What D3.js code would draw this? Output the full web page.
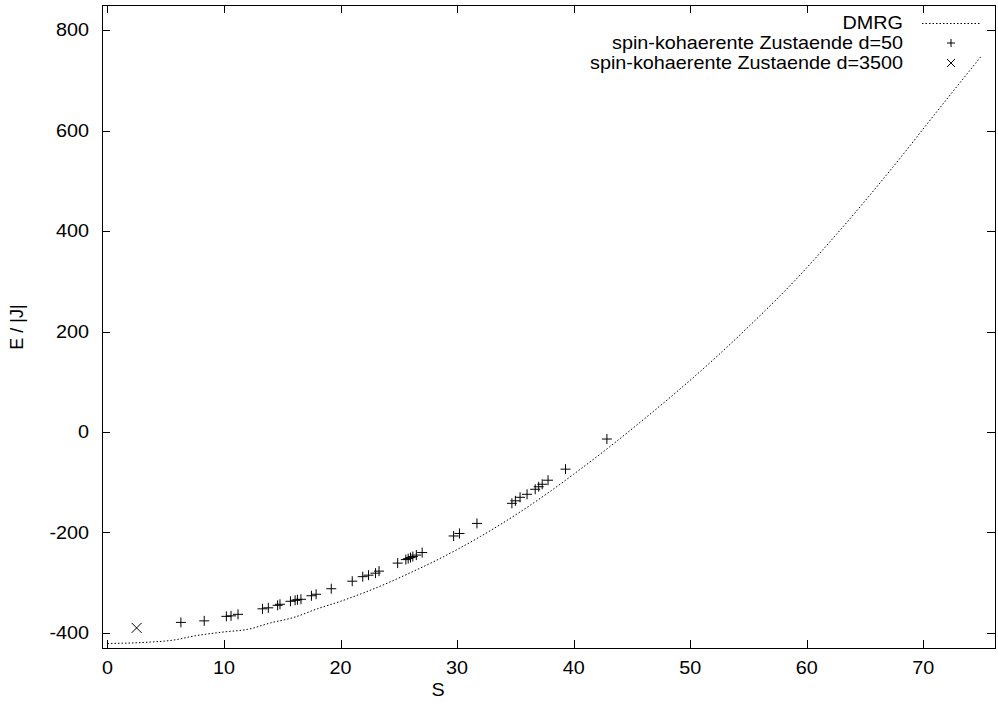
<!DOCTYPE html>
<html>
<head>
<meta charset="utf-8">
<script src="https://cdn.jsdelivr.net/npm/d3@7"></script>
<style>
  body { margin: 0; background: #fff; }
  text { font-family: "Liberation Sans", Arial, sans-serif; font-size: 18px; fill: #000; }
</style>
</head>
<body>
<svg class="chart"></svg>
<script>
// DMRG curve
const dmrgS = [0, 3, 6, 7, 10, 12, 14, 16, 18, 20, 22, 24, 26, 28, 30, 32, 34, 36, 38, 40, 43, 46, 49, 52.6, 56, 59, 62, 65, 68, 71, 75];
const dmrgE = [-421, -419, -413, -408, -398, -393, -380, -369, -352, -337, -320, -301, -280, -258, -234, -208, -180, -150, -118, -84, -31, 25, 83, 157, 232, 302, 379, 460, 545, 633, 749];

// spin-kohaerente Zustaende d=50
const d50S = [6.3, 8.3, 10.2, 10.6, 11.2, 13.3, 13.8, 14.6, 14.8, 15.7, 16.1, 16.3, 16.6, 17.5, 17.9, 19.2, 21.0, 21.9, 22.4, 23.0, 23.3, 24.9, 25.6, 25.8, 26.0, 26.2, 26.5, 27.0, 29.7, 30.2, 31.7, 34.7, 35.0, 35.4, 36.0, 36.7, 37.0, 37.3, 37.8, 39.3, 42.85];
const d50E = [-379, -376, -367, -366, -363, -352, -350, -345, -343, -337, -335, -334, -333, -326, -323, -312, -297, -288, -285, -281, -277, -261, -254, -252, -250, -248, -245, -240, -207, -202, -182, -142, -137, -130, -124, -114, -109, -104, -96, -74, -14];

// spin-kohaerente Zustaende d=3500
const d3500S = [2.5];
const d3500E = [-390];

const xTicks = [0, 10, 20, 30, 40, 50, 60, 70];
const yTicks = [-400, -200, 0, 200, 400, 600, 800];
const legendLabels = ['DMRG', 'spin-kohaerente Zustaende d=50', 'spin-kohaerente Zustaende d=3500'];

const W = 998, H = 711;
const frame = {left: 102, right: 995, top: 5, bottom: 648};
const tickLen = 8;

const svg = d3.select('.chart').attr('width', W).attr('height', H);

const x = d3.scaleLinear().domain([-0.47, 76.15]).range([frame.left, frame.right]);
const y = d3.scaleLinear().domain([-430, 850]).range([frame.bottom, frame.top]);

// stretched text like the original bitmap
function label(g, tx, ty, str, anchor) {
  g.append('g').attr('transform', `translate(${tx},${ty})`)
    .append('text')
    .attr('transform', 'scale(1.1,1)')
    .attr('text-anchor', anchor)
    .attr('dominant-baseline', 'central')
    .text(str);
}

// ticks (mirrored on all four sides)
const ticks = svg.append('g').attr('stroke', '#000').attr('stroke-width', 1);
xTicks.forEach(t => {
  const px = Math.round(x(t)) + 0.5;
  ticks.append('line').attr('x1', px).attr('x2', px).attr('y1', frame.bottom).attr('y2', frame.bottom - tickLen);
  ticks.append('line').attr('x1', px).attr('x2', px).attr('y1', frame.top).attr('y2', frame.top + tickLen);
});
yTicks.forEach(t => {
  const py = Math.round(y(t)) + 0.5;
  ticks.append('line').attr('y1', py).attr('y2', py).attr('x1', frame.left).attr('x2', frame.left + tickLen);
  ticks.append('line').attr('y1', py).attr('y2', py).attr('x1', frame.right).attr('x2', frame.right - tickLen);
});

// tick labels
const labels = svg.append('g');
xTicks.forEach(t => label(labels, x(t), 668, t, 'middle'));
yTicks.forEach(t => label(labels, 89, y(t), t, 'end'));

// axis titles
label(labels, 438, 690, 'S', 'middle');
labels.append('text')
  .attr('transform', 'translate(17,327) rotate(-90)')
  .attr('text-anchor', 'middle')
  .attr('dominant-baseline', 'central')
  .text('E / |J|');

// frame
svg.append('rect')
  .attr('x', frame.left + 0.5).attr('y', frame.top + 0.5)
  .attr('width', frame.right - frame.left).attr('height', frame.bottom - frame.top)
  .attr('fill', 'none').attr('stroke', '#000').attr('stroke-width', 1);

// DMRG line
const line = d3.line().x(d => x(d[0])).y(d => y(d[1])).curve(d3.curveMonotoneX);
svg.append('path')
  .datum(d3.zip(dmrgS, dmrgE))
  .attr('d', line)
  .attr('fill', 'none')
  .attr('stroke', '#000')
  .attr('stroke-width', 1)
  .attr('stroke-dasharray', '1.5,2');

function plus(g, cx, cy, r) {
  g.append('path').attr('d', `M${cx - r},${cy}H${cx + r}M${cx},${cy - r}V${cy + r}`);
}
function cross(g, cx, cy, r) {
  g.append('path').attr('d', `M${cx - r},${cy - r}L${cx + r},${cy + r}M${cx - r},${cy + r}L${cx + r},${cy - r}`);
}

const marks = svg.append('g').attr('stroke', '#000').attr('stroke-width', 1).attr('fill', 'none');
d3.zip(d50S, d50E).forEach(d => plus(marks, x(d[0]), y(d[1]), 5));
d3.zip(d3500S, d3500E).forEach(d => cross(marks, x(d[0]), y(d[1]), 5));

// legend
const legend = svg.append('g');
const legendY = [23, 43, 63];
legendLabels.forEach((s, i) => label(legend, 903, legendY[i], s, 'end'));
legend.append('line')
  .attr('x1', 922).attr('x2', 980).attr('y1', legendY[0] + 0.5).attr('y2', legendY[0] + 0.5)
  .attr('stroke', '#000').attr('stroke-dasharray', '1.5,2');
const lm = legend.append('g').attr('stroke', '#000').attr('stroke-width', 1).attr('fill', 'none');
plus(lm, 951, legendY[1], 4);
cross(lm, 951, legendY[2], 4);
</script>
</body>
</html>
